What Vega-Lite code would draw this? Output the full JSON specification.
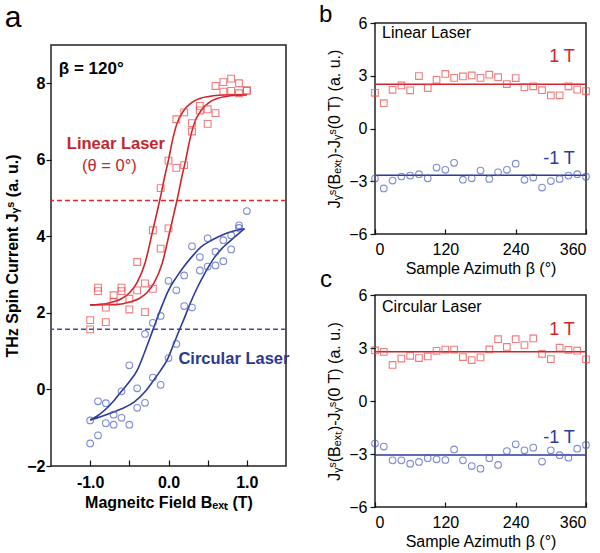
{
  "$schema": "https://vega.github.io/schema/vega-lite/v6.json",
  "padding": {"left": 4, "top": 2, "right": 0, "bottom": 0},
  "spacing": 27,
  "datasets": {
    "aLinPts": [
      {"B": -1.0, "J": 1.81}, {"B": -1.0, "J": 1.57},
      {"B": -0.9, "J": 2.66}, {"B": -0.9, "J": 2.57},
      {"B": -0.8, "J": 2.14}, {"B": -0.8, "J": 1.76},
      {"B": -0.7, "J": 2.46}, {"B": -0.7, "J": 2.29},
      {"B": -0.6, "J": 2.66}, {"B": -0.6, "J": 2.57},
      {"B": -0.5, "J": 2.37}, {"B": -0.5, "J": 2.09},
      {"B": -0.4, "J": 3.33}, {"B": -0.4, "J": 2.59},
      {"B": -0.3, "J": 2.77}, {"B": -0.3, "J": 2.02},
      {"B": -0.2, "J": 4.16}, {"B": -0.2, "J": 2.63},
      {"B": -0.1, "J": 5.26}, {"B": -0.1, "J": 3.68},
      {"B": 0.0, "J": 5.98}, {"B": 0.0, "J": 4.21},
      {"B": 0.1, "J": 7.06}, {"B": 0.1, "J": 5.79},
      {"B": 0.2, "J": 7.24}, {"B": 0.2, "J": 5.86},
      {"B": 0.3, "J": 6.96}, {"B": 0.3, "J": 6.74},
      {"B": 0.4, "J": 7.41}, {"B": 0.4, "J": 7.29},
      {"B": 0.5, "J": 7.32}, {"B": 0.5, "J": 6.94},
      {"B": 0.6, "J": 7.93}, {"B": 0.6, "J": 7.22},
      {"B": 0.7, "J": 8.03}, {"B": 0.7, "J": 7.78},
      {"B": 0.8, "J": 8.12}, {"B": 0.8, "J": 7.8},
      {"B": 0.9, "J": 8.0}, {"B": 0.9, "J": 7.74},
      {"B": 1.0, "J": 7.81}, {"B": 1.0, "J": 7.81}
    ],
    "aCircPts": [
      {"B": -1.0, "J": -0.81}, {"B": -1.0, "J": -1.41},
      {"B": -0.9, "J": -0.31}, {"B": -0.9, "J": -1.2},
      {"B": -0.8, "J": -0.36}, {"B": -0.8, "J": -0.88},
      {"B": -0.7, "J": -0.66}, {"B": -0.7, "J": -0.92},
      {"B": -0.6, "J": -0.05}, {"B": -0.6, "J": -0.74},
      {"B": -0.5, "J": 0.63}, {"B": -0.5, "J": -0.92},
      {"B": -0.4, "J": 0.03}, {"B": -0.4, "J": -0.48},
      {"B": -0.3, "J": 1.45}, {"B": -0.3, "J": -0.35},
      {"B": -0.2, "J": 1.74}, {"B": -0.2, "J": 0.31},
      {"B": -0.1, "J": 1.92}, {"B": -0.1, "J": 0.12},
      {"B": 0.0, "J": 2.84}, {"B": 0.0, "J": 0.82},
      {"B": 0.1, "J": 2.59}, {"B": 0.1, "J": 1.19},
      {"B": 0.2, "J": 2.98}, {"B": 0.2, "J": 2.18},
      {"B": 0.3, "J": 3.74}, {"B": 0.3, "J": 2.14},
      {"B": 0.4, "J": 3.46}, {"B": 0.4, "J": 3.11},
      {"B": 0.5, "J": 3.95}, {"B": 0.5, "J": 3.21},
      {"B": 0.6, "J": 3.6}, {"B": 0.6, "J": 3.24},
      {"B": 0.7, "J": 3.9}, {"B": 0.7, "J": 3.35},
      {"B": 0.8, "J": 4.03}, {"B": 0.8, "J": 3.66},
      {"B": 0.9, "J": 4.29}, {"B": 0.9, "J": 4.22},
      {"B": 1.0, "J": 4.66}
    ],
    "aLinFit": [
      {"branch": "down", "B": -1.0, "J": 2.21}, {"branch": "down", "B": -0.9, "J": 2.22},
      {"branch": "down", "B": -0.8, "J": 2.24}, {"branch": "down", "B": -0.7, "J": 2.29},
      {"branch": "down", "B": -0.6, "J": 2.37}, {"branch": "down", "B": -0.5, "J": 2.52},
      {"branch": "down", "B": -0.4, "J": 2.8}, {"branch": "down", "B": -0.3, "J": 3.3},
      {"branch": "down", "B": -0.2, "J": 4.16}, {"branch": "down", "B": -0.15, "J": 4.6},
      {"branch": "down", "B": -0.1, "J": 5.05}, {"branch": "down", "B": -0.05, "J": 5.55},
      {"branch": "down", "B": 0.0, "J": 6.0}, {"branch": "down", "B": 0.05, "J": 6.5},
      {"branch": "down", "B": 0.1, "J": 6.9}, {"branch": "down", "B": 0.2, "J": 7.3},
      {"branch": "down", "B": 0.3, "J": 7.5}, {"branch": "down", "B": 0.4, "J": 7.6},
      {"branch": "down", "B": 0.5, "J": 7.65}, {"branch": "down", "B": 0.6, "J": 7.68},
      {"branch": "down", "B": 0.8, "J": 7.7}, {"branch": "down", "B": 1.0, "J": 7.7},
      {"branch": "up", "B": -1.0, "J": 2.21}, {"branch": "up", "B": -0.68, "J": 2.22},
      {"branch": "up", "B": -0.58, "J": 2.24}, {"branch": "up", "B": -0.48, "J": 2.29},
      {"branch": "up", "B": -0.38, "J": 2.37}, {"branch": "up", "B": -0.28, "J": 2.52},
      {"branch": "up", "B": -0.18, "J": 2.8}, {"branch": "up", "B": -0.08, "J": 3.3},
      {"branch": "up", "B": 0.02, "J": 4.16}, {"branch": "up", "B": 0.07, "J": 4.6},
      {"branch": "up", "B": 0.12, "J": 5.05}, {"branch": "up", "B": 0.17, "J": 5.55},
      {"branch": "up", "B": 0.22, "J": 6.0}, {"branch": "up", "B": 0.27, "J": 6.5},
      {"branch": "up", "B": 0.32, "J": 6.9}, {"branch": "up", "B": 0.42, "J": 7.3},
      {"branch": "up", "B": 0.52, "J": 7.5}, {"branch": "up", "B": 0.62, "J": 7.6},
      {"branch": "up", "B": 0.72, "J": 7.65}, {"branch": "up", "B": 0.82, "J": 7.68},
      {"branch": "up", "B": 1.0, "J": 7.7}
    ],
    "aCircFit": [
      {"branch": "down", "B": -1.0, "J": -0.8}, {"branch": "down", "B": -0.9, "J": -0.68},
      {"branch": "down", "B": -0.82, "J": -0.55}, {"branch": "down", "B": -0.7, "J": -0.3},
      {"branch": "down", "B": -0.6, "J": -0.05}, {"branch": "down", "B": -0.5, "J": 0.2},
      {"branch": "down", "B": -0.4, "J": 0.5}, {"branch": "down", "B": -0.3, "J": 1.0},
      {"branch": "down", "B": -0.2, "J": 1.55}, {"branch": "down", "B": -0.1, "J": 2.1},
      {"branch": "down", "B": 0.0, "J": 2.59}, {"branch": "down", "B": 0.1, "J": 2.93},
      {"branch": "down", "B": 0.2, "J": 3.22}, {"branch": "down", "B": 0.3, "J": 3.47},
      {"branch": "down", "B": 0.42, "J": 3.73}, {"branch": "down", "B": 0.55, "J": 3.9},
      {"branch": "down", "B": 0.68, "J": 4.03}, {"branch": "down", "B": 0.8, "J": 4.12},
      {"branch": "down", "B": 0.97, "J": 4.2},
      {"branch": "up", "B": -1.0, "J": -0.8}, {"branch": "up", "B": -0.85, "J": -0.7},
      {"branch": "up", "B": -0.7, "J": -0.59}, {"branch": "up", "B": -0.55, "J": -0.46},
      {"branch": "up", "B": -0.44, "J": -0.33}, {"branch": "up", "B": -0.3, "J": -0.06},
      {"branch": "up", "B": -0.19, "J": 0.24}, {"branch": "up", "B": -0.1, "J": 0.5},
      {"branch": "up", "B": -0.02, "J": 0.76}, {"branch": "up", "B": 0.05, "J": 1.1},
      {"branch": "up", "B": 0.14, "J": 1.56}, {"branch": "up", "B": 0.2, "J": 1.85},
      {"branch": "up", "B": 0.275, "J": 2.24}, {"branch": "up", "B": 0.37, "J": 2.67},
      {"branch": "up", "B": 0.47, "J": 3.06}, {"branch": "up", "B": 0.57, "J": 3.4},
      {"branch": "up", "B": 0.68, "J": 3.68}, {"branch": "up", "B": 0.8, "J": 3.9},
      {"branch": "up", "B": 0.97, "J": 4.2}
    ],
    "aLevels": [{"laser": "Linear", "J": 4.94}, {"laser": "Circular", "J": 1.57}],
    "bPos": [
      {"beta": 0, "dJ": 2.03}, {"beta": 15, "dJ": 1.44}, {"beta": 30, "dJ": 2.2}, {"beta": 45, "dJ": 2.45},
      {"beta": 60, "dJ": 2.17}, {"beta": 75, "dJ": 2.98}, {"beta": 90, "dJ": 2.3}, {"beta": 105, "dJ": 2.77},
      {"beta": 120, "dJ": 3.1}, {"beta": 135, "dJ": 2.88}, {"beta": 150, "dJ": 2.96}, {"beta": 165, "dJ": 3.02},
      {"beta": 180, "dJ": 2.88}, {"beta": 195, "dJ": 3.06}, {"beta": 210, "dJ": 2.92}, {"beta": 225, "dJ": 2.53},
      {"beta": 240, "dJ": 2.87}, {"beta": 255, "dJ": 2.35}, {"beta": 270, "dJ": 2.4}, {"beta": 285, "dJ": 2.18},
      {"beta": 300, "dJ": 1.88}, {"beta": 315, "dJ": 1.89}, {"beta": 330, "dJ": 2.4}, {"beta": 345, "dJ": 2.21},
      {"beta": 360, "dJ": 2.13}
    ],
    "bNeg": [
      {"beta": 0, "dJ": -2.85}, {"beta": 15, "dJ": -3.41}, {"beta": 30, "dJ": -2.96}, {"beta": 45, "dJ": -2.73},
      {"beta": 60, "dJ": -2.68}, {"beta": 75, "dJ": -2.6}, {"beta": 90, "dJ": -2.83}, {"beta": 105, "dJ": -2.22},
      {"beta": 120, "dJ": -2.35}, {"beta": 135, "dJ": -1.95}, {"beta": 150, "dJ": -2.91}, {"beta": 165, "dJ": -2.83},
      {"beta": 180, "dJ": -2.39}, {"beta": 195, "dJ": -2.87}, {"beta": 210, "dJ": -2.49}, {"beta": 225, "dJ": -2.35},
      {"beta": 240, "dJ": -2.0}, {"beta": 255, "dJ": -2.92}, {"beta": 270, "dJ": -2.79}, {"beta": 285, "dJ": -3.36},
      {"beta": 300, "dJ": -2.99}, {"beta": 315, "dJ": -2.87}, {"beta": 330, "dJ": -2.68}, {"beta": 345, "dJ": -2.6},
      {"beta": 360, "dJ": -2.74}
    ],
    "cPos": [
      {"beta": 0, "dJ": 2.86}, {"beta": 15, "dJ": 2.78}, {"beta": 30, "dJ": 2.04}, {"beta": 45, "dJ": 2.4},
      {"beta": 60, "dJ": 2.56}, {"beta": 75, "dJ": 2.43}, {"beta": 90, "dJ": 2.52}, {"beta": 105, "dJ": 2.84},
      {"beta": 120, "dJ": 2.91}, {"beta": 135, "dJ": 2.91}, {"beta": 150, "dJ": 2.49}, {"beta": 165, "dJ": 2.32},
      {"beta": 180, "dJ": 2.47}, {"beta": 195, "dJ": 2.92}, {"beta": 210, "dJ": 3.5}, {"beta": 225, "dJ": 3.06},
      {"beta": 240, "dJ": 3.5}, {"beta": 255, "dJ": 3.17}, {"beta": 270, "dJ": 3.54}, {"beta": 285, "dJ": 2.67},
      {"beta": 300, "dJ": 2.37}, {"beta": 315, "dJ": 3.02}, {"beta": 330, "dJ": 2.9}, {"beta": 345, "dJ": 2.85},
      {"beta": 360, "dJ": 2.36}
    ],
    "cNeg": [
      {"beta": 0, "dJ": -2.41}, {"beta": 15, "dJ": -2.58}, {"beta": 30, "dJ": -3.36}, {"beta": 45, "dJ": -3.36},
      {"beta": 60, "dJ": -3.55}, {"beta": 75, "dJ": -3.45}, {"beta": 90, "dJ": -3.24}, {"beta": 105, "dJ": -3.3},
      {"beta": 120, "dJ": -3.34}, {"beta": 135, "dJ": -2.74}, {"beta": 150, "dJ": -3.36}, {"beta": 165, "dJ": -3.68},
      {"beta": 180, "dJ": -3.83}, {"beta": 195, "dJ": -3.24}, {"beta": 210, "dJ": -3.62}, {"beta": 225, "dJ": -2.83},
      {"beta": 240, "dJ": -2.45}, {"beta": 255, "dJ": -2.79}, {"beta": 270, "dJ": -2.64}, {"beta": 285, "dJ": -3.43},
      {"beta": 300, "dJ": -2.79}, {"beta": 315, "dJ": -3.07}, {"beta": 330, "dJ": -3.21}, {"beta": 345, "dJ": -2.7},
      {"beta": 360, "dJ": -2.49}
    ],
    "bLevels": [{"field": "1 T", "dJ": 2.52}, {"field": "-1 T", "dJ": -2.66}],
    "cLevels": [{"field": "1 T", "dJ": 2.79}, {"field": "-1 T", "dJ": -3.06}]
  },
  "hconcat": [
    {
      "spacing": -22,
      "vconcat": [
        {
          "width": 235,
          "height": 1,
          "view": {"stroke": null, "fill": null},
          "data": {"values": []},
          "mark": {"type": "point", "opacity": 0},
          "encoding": {}
        },
        {
          "width": 235,
          "height": 421,
          "title": {"text": "a", "anchor": "start", "frame": "bounds", "fontSize": 30, "fontWeight": "normal", "offset": 12},
          "layer": [
            {
              "data": {"name": "aLevels"},
              "transform": [{"filter": "datum.laser === 'Linear'"}],
              "mark": {"type": "rule", "color": "#e8262c", "strokeDash": [5, 3], "strokeWidth": 1.5},
              "encoding": {
                "y": {
                  "field": "J", "type": "quantitative",
                  "scale": {"domain": [-2, 9], "nice": false, "zero": false},
                  "axis": {
                    "title": "THz Spin Current Jᵧˢ (a. u.)",
                    "values": [-2, 0, 2, 4, 6, 8],
                    "labelFontWeight": "bold", "labelFontSize": 16,
                    "titleFontWeight": "bold", "titleFontSize": 16,
                    "tickSize": 5, "labelPadding": 1, "titlePadding": 6
                  }
                }
              }
            },
            {
              "data": {"name": "aLevels"},
              "transform": [{"filter": "datum.laser === 'Circular'"}],
              "mark": {"type": "rule", "color": "#3a4fb0", "strokeDash": [5, 3], "strokeWidth": 1.5},
              "encoding": {"y": {"field": "J", "type": "quantitative"}}
            },
            {
              "data": {"name": "aLinFit"},
              "mark": {"type": "line", "color": "#d2232a", "strokeWidth": 1.6, "interpolate": "monotone"},
              "encoding": {
                "x": {
                  "field": "B", "type": "quantitative",
                  "scale": {"domain": [-1.5, 1.5], "nice": false, "zero": false},
                  "axis": {
                    "title": "Magneitc Field Bₑₓₜ (T)",
                    "values": [-1, -0.5, 0, 0.5, 1],
                    "labelExpr": "datum.value === -1 ? '-1.0' : datum.value === 0 ? '0.0' : datum.value === 1 ? '1.0' : ''",
                    "labelFontWeight": "bold", "labelFontSize": 16,
                    "titleFontWeight": "bold", "titleFontSize": 16,
                    "tickSize": -6, "labelPadding": 14, "titlePadding": 4
                  }
                },
                "y": {"field": "J", "type": "quantitative"},
                "detail": {"field": "branch"}
              }
            },
            {
              "data": {"name": "aCircFit"},
              "mark": {"type": "line", "color": "#2b3a9c", "strokeWidth": 1.6, "interpolate": "monotone"},
              "encoding": {
                "x": {"field": "B", "type": "quantitative"},
                "y": {"field": "J", "type": "quantitative"},
                "detail": {"field": "branch"}
              }
            },
            {
              "data": {"name": "aLinPts"},
              "mark": {"type": "point", "shape": "square", "filled": false, "color": "#ee4548", "size": 46, "strokeWidth": 1.1},
              "encoding": {
                "x": {"field": "B", "type": "quantitative"},
                "y": {"field": "J", "type": "quantitative"}
              }
            },
            {
              "data": {"name": "aCircPts"},
              "mark": {"type": "point", "shape": "circle", "filled": false, "color": "#4a5cc4", "size": 44, "strokeWidth": 1.1},
              "encoding": {
                "x": {"field": "B", "type": "quantitative"},
                "y": {"field": "J", "type": "quantitative"}
              }
            },
            {
              "data": {"values": [{"B": -1.4, "J": 8.38, "note": "β = 120°"}]},
              "mark": {"type": "text", "align": "left", "baseline": "middle", "fontSize": 17, "fontWeight": "bold", "color": "#000"},
              "encoding": {
                "x": {"field": "B", "type": "quantitative"},
                "y": {"field": "J", "type": "quantitative"},
                "text": {"field": "note"}
              }
            },
            {
              "data": {"values": [{"B": -0.672, "J": 6.41, "note": "Linear Laser"}]},
              "mark": {"type": "text", "align": "center", "baseline": "middle", "fontSize": 16.5, "fontWeight": "bold", "color": "#c1272d"},
              "encoding": {
                "x": {"field": "B", "type": "quantitative"},
                "y": {"field": "J", "type": "quantitative"},
                "text": {"field": "note"}
              }
            },
            {
              "data": {"values": [{"B": -0.755, "J": 5.84, "note": "(θ = 0°)"}]},
              "mark": {"type": "text", "align": "center", "baseline": "middle", "fontSize": 16.5, "fontWeight": "normal", "color": "#c1272d"},
              "encoding": {
                "x": {"field": "B", "type": "quantitative"},
                "y": {"field": "J", "type": "quantitative"},
                "text": {"field": "note"}
              }
            },
            {
              "data": {"values": [{"B": 0.127, "J": 0.8, "note": "Circular Laser"}]},
              "mark": {"type": "text", "align": "left", "baseline": "middle", "fontSize": 16.5, "fontWeight": "bold", "color": "#2b3990"},
              "encoding": {
                "x": {"field": "B", "type": "quantitative"},
                "y": {"field": "J", "type": "quantitative"},
                "text": {"field": "note"}
              }
            }
          ]
        }
      ]
    },
    {
      "spacing": -10,
      "vconcat": [
        {
          "width": 211,
          "height": 211,
          "layer": [
            {
              "data": {"name": "bLevels"},
              "transform": [{"filter": "datum.field === '1 T'"}],
              "mark": {"type": "rule", "color": "#d2232a", "strokeWidth": 1.6},
              "encoding": {
                "y": {
                  "field": "dJ", "type": "quantitative",
                  "scale": {"domain": [-6, 6], "nice": false},
                  "axis": {
                    "title": "Jᵧˢ(Bₑₓₜ)-Jᵧˢ(0 T) (a. u.)",
                    "values": [-6, -3, 0, 3, 6],
                    "labelFontSize": 16, "titleFontSize": 16, "titleFontWeight": "normal",
                    "tickSize": 5, "labelPadding": 3, "titlePadding": 6
                  }
                }
              }
            },
            {
              "data": {"name": "bLevels"},
              "transform": [{"filter": "datum.field === '-1 T'"}],
              "mark": {"type": "rule", "color": "#2b3a9c", "strokeWidth": 1.6},
              "encoding": {"y": {"field": "dJ", "type": "quantitative"}}
            },
            {
              "data": {"name": "bPos"},
              "mark": {"type": "point", "shape": "square", "filled": false, "color": "#ee4548", "size": 44, "strokeWidth": 1.1},
              "encoding": {
                "x": {
                  "field": "beta", "type": "quantitative",
                  "scale": {"domain": [0, 360], "nice": false},
                  "axis": {
                    "title": "Sample Azimuth β (°)",
                    "values": [0, 120, 240, 360],
                    "labelFontSize": 16, "titleFontSize": 16, "titleFontWeight": "normal",
                    "tickSize": -5, "labelPadding": 12, "titlePadding": 3
                  }
                },
                "y": {"field": "dJ", "type": "quantitative"}
              }
            },
            {
              "data": {"name": "bNeg"},
              "mark": {"type": "point", "shape": "circle", "filled": false, "color": "#4a5cc4", "size": 44, "strokeWidth": 1.1},
              "encoding": {
                "x": {"field": "beta", "type": "quantitative"},
                "y": {"field": "dJ", "type": "quantitative"}
              }
            },
            {
              "data": {"values": [{"beta": -95.4, "dJ": 6.04, "note": "b"}]},
              "mark": {"type": "text", "align": "left", "baseline": "alphabetic", "fontSize": 24, "color": "#000"},
              "encoding": {
                "x": {"field": "beta", "type": "quantitative"},
                "y": {"field": "dJ", "type": "quantitative"},
                "text": {"field": "note"}
              }
            },
            {
              "data": {"values": [{"beta": 12, "dJ": 5.41, "note": "Linear Laser"}]},
              "mark": {"type": "text", "align": "left", "baseline": "middle", "fontSize": 16, "color": "#000"},
              "encoding": {
                "x": {"field": "beta", "type": "quantitative"},
                "y": {"field": "dJ", "type": "quantitative"},
                "text": {"field": "note"}
              }
            },
            {
              "data": {"values": [{"beta": 341, "dJ": 4.05, "note": "1 T"}]},
              "mark": {"type": "text", "align": "right", "baseline": "middle", "fontSize": 18, "color": "#d2232a"},
              "encoding": {
                "x": {"field": "beta", "type": "quantitative"},
                "y": {"field": "dJ", "type": "quantitative"},
                "text": {"field": "note"}
              }
            },
            {
              "data": {"values": [{"beta": 341, "dJ": -1.71, "note": "-1 T"}]},
              "mark": {"type": "text", "align": "right", "baseline": "middle", "fontSize": 18, "color": "#2b3a9c"},
              "encoding": {
                "x": {"field": "beta", "type": "quantitative"},
                "y": {"field": "dJ", "type": "quantitative"},
                "text": {"field": "note"}
              }
            }
          ]
        },
        {
          "width": 211,
          "height": 212,
          "layer": [
            {
              "data": {"name": "cLevels"},
              "transform": [{"filter": "datum.field === '1 T'"}],
              "mark": {"type": "rule", "color": "#d2232a", "strokeWidth": 1.6},
              "encoding": {
                "y": {
                  "field": "dJ", "type": "quantitative",
                  "scale": {"domain": [-6, 6], "nice": false},
                  "axis": {
                    "title": "Jᵧˢ(Bₑₓₜ)-Jᵧˢ(0 T) (a. u.)",
                    "values": [-6, -3, 0, 3, 6],
                    "labelFontSize": 16, "titleFontSize": 16, "titleFontWeight": "normal",
                    "tickSize": 5, "labelPadding": 3, "titlePadding": 6
                  }
                }
              }
            },
            {
              "data": {"name": "cLevels"},
              "transform": [{"filter": "datum.field === '-1 T'"}],
              "mark": {"type": "rule", "color": "#2b3a9c", "strokeWidth": 1.6},
              "encoding": {"y": {"field": "dJ", "type": "quantitative"}}
            },
            {
              "data": {"name": "cPos"},
              "mark": {"type": "point", "shape": "square", "filled": false, "color": "#ee4548", "size": 44, "strokeWidth": 1.1},
              "encoding": {
                "x": {
                  "field": "beta", "type": "quantitative",
                  "scale": {"domain": [0, 360], "nice": false},
                  "axis": {
                    "title": "Sample Azimuth β (°)",
                    "values": [0, 120, 240, 360],
                    "labelFontSize": 16, "titleFontSize": 16, "titleFontWeight": "normal",
                    "tickSize": -5, "labelPadding": 12, "titlePadding": 3
                  }
                },
                "y": {"field": "dJ", "type": "quantitative"}
              }
            },
            {
              "data": {"name": "cNeg"},
              "mark": {"type": "point", "shape": "circle", "filled": false, "color": "#4a5cc4", "size": 44, "strokeWidth": 1.1},
              "encoding": {
                "x": {"field": "beta", "type": "quantitative"},
                "y": {"field": "dJ", "type": "quantitative"}
              }
            },
            {
              "data": {"values": [{"beta": -93.7, "dJ": 6.45, "note": "c"}]},
              "mark": {"type": "text", "align": "left", "baseline": "alphabetic", "fontSize": 24, "color": "#000"},
              "encoding": {
                "x": {"field": "beta", "type": "quantitative"},
                "y": {"field": "dJ", "type": "quantitative"},
                "text": {"field": "note"}
              }
            },
            {
              "data": {"values": [{"beta": 12, "dJ": 5.32, "note": "Circular Laser"}]},
              "mark": {"type": "text", "align": "left", "baseline": "middle", "fontSize": 16, "color": "#000"},
              "encoding": {
                "x": {"field": "beta", "type": "quantitative"},
                "y": {"field": "dJ", "type": "quantitative"},
                "text": {"field": "note"}
              }
            },
            {
              "data": {"values": [{"beta": 341, "dJ": 4.02, "note": "1 T"}]},
              "mark": {"type": "text", "align": "right", "baseline": "middle", "fontSize": 18, "color": "#d2232a"},
              "encoding": {
                "x": {"field": "beta", "type": "quantitative"},
                "y": {"field": "dJ", "type": "quantitative"},
                "text": {"field": "note"}
              }
            },
            {
              "data": {"values": [{"beta": 341, "dJ": -2.07, "note": "-1 T"}]},
              "mark": {"type": "text", "align": "right", "baseline": "middle", "fontSize": 18, "color": "#2b3a9c"},
              "encoding": {
                "x": {"field": "beta", "type": "quantitative"},
                "y": {"field": "dJ", "type": "quantitative"},
                "text": {"field": "note"}
              }
            }
          ]
        }
      ]
    }
  ],
  "config": {
    "font": "Liberation Sans",
    "view": {"stroke": "#222", "strokeWidth": 1.5},
    "axis": {
      "grid": false, "domain": false,
      "tickColor": "#111", "tickWidth": 1.2,
      "labelColor": "#000", "titleColor": "#000",
      "labelFont": "Liberation Sans", "titleFont": "Liberation Sans"
    },
    "title": {"font": "Liberation Sans", "color": "#000"},
    "text": {"font": "Liberation Sans"}
  }
}
